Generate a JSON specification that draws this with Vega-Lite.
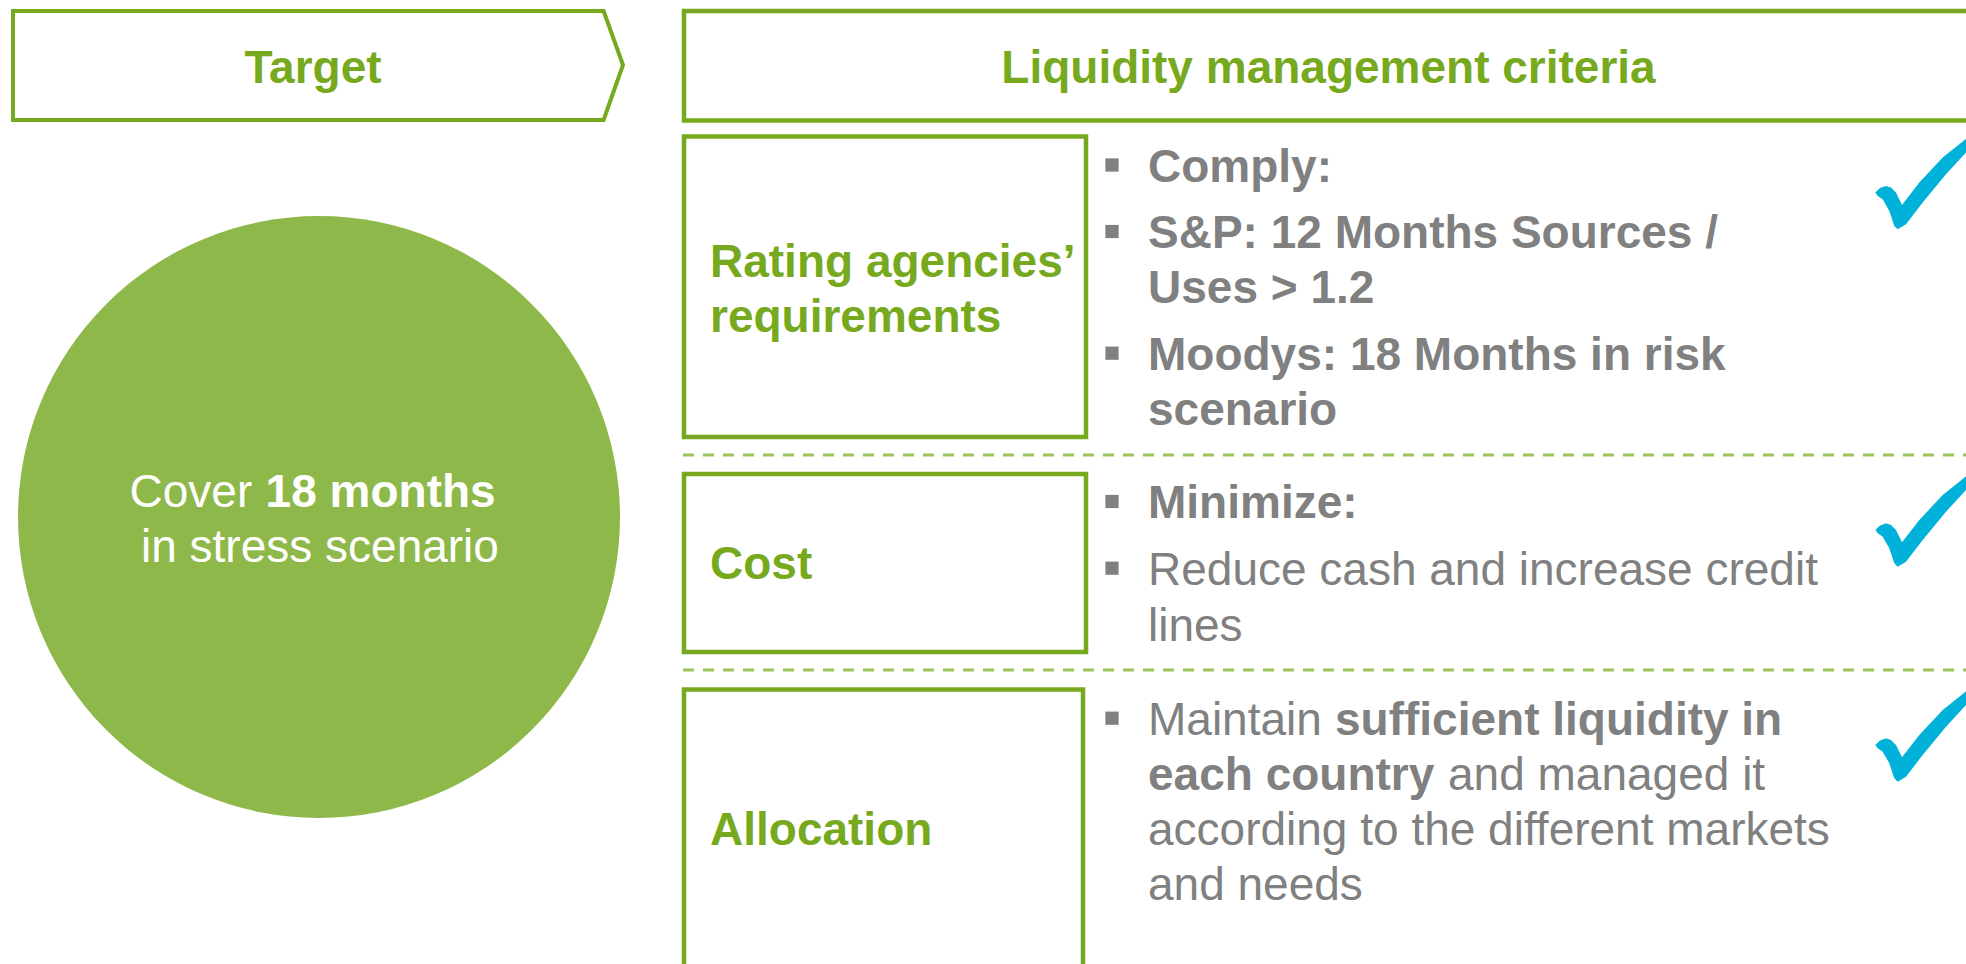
{
  "$schema": "https://vega.github.io/schema/vega-lite/v6.json",
  "width": 1966,
  "height": 964,
  "autosize": {"type": "none"},
  "padding": 0,
  "background": "white",
  "config": {"view": {"stroke": null}, "axis": {"disable": true}},
  "datasets": {
    "circle": [{"x": 319, "y": 517}],
    "pentagon": [
      {"x": 13, "y": 11, "o": 1},
      {"x": 603.6, "y": 11, "o": 2},
      {"x": 623, "y": 65, "o": 3},
      {"x": 603.6, "y": 120, "o": 4},
      {"x": 13, "y": 120, "o": 5},
      {"x": 13, "y": 11, "o": 6}
    ],
    "boxes": [
      {"x": 684, "x2": 2000, "y": 11, "y2": 120.5},
      {"x": 684, "x2": 1086, "y": 136.5, "y2": 437},
      {"x": 684, "x2": 1086, "y": 474, "y2": 652},
      {"x": 684, "x2": 1083, "y": 689.5, "y2": 1010}
    ],
    "dashes": [
      {"x": 683, "x2": 1966, "y": 455},
      {"x": 683, "x2": 1966, "y": 670}
    ],
    "bullets": [
      {"x": 1112, "y": 165},
      {"x": 1112, "y": 231.5},
      {"x": 1112, "y": 353.2},
      {"x": 1112, "y": 501.5},
      {"x": 1112, "y": 568.2},
      {"x": 1112, "y": 718.2}
    ],
    "checks": [
      {"x": 1920, "y": 185},
      {"x": 1920, "y": 522.4},
      {"x": 1920, "y": 737.4}
    ],
    "headers": [
      {"x": 313, "y": 82.7, "t": "Target"},
      {"x": 1328.5, "y": 82.7, "t": "Liquidity management criteria"}
    ],
    "labels": [
      {"x": 710, "y": 276.7, "t": "Rating agencies’"},
      {"x": 710, "y": 331.7, "t": "requirements"},
      {"x": 710, "y": 579.3, "t": "Cost"},
      {"x": 710, "y": 845, "t": "Allocation"}
    ],
    "greyBold": [
      {"x": 1148, "y": 181.7, "t": "Comply:"},
      {"x": 1148, "y": 248.3, "t": "S&P: 12 Months Sources /"},
      {"x": 1148, "y": 303.3, "t": "Uses > 1.2"},
      {"x": 1148, "y": 370, "t": "Moodys: 18 Months in risk"},
      {"x": 1148, "y": 425, "t": "scenario"},
      {"x": 1148, "y": 518.3, "t": "Minimize:"},
      {"x": 1335, "y": 735, "t": "sufficient liquidity in"},
      {"x": 1148, "y": 790, "t": "each country"}
    ],
    "greyRegular": [
      {"x": 1148, "y": 585, "t": "Reduce cash and increase credit"},
      {"x": 1148, "y": 640.7, "t": "lines"},
      {"x": 1148, "y": 735, "t": "Maintain"},
      {"x": 1448, "y": 790, "t": "and managed it"},
      {"x": 1148, "y": 845, "t": "according to the different markets"},
      {"x": 1148, "y": 900, "t": "and needs"}
    ],
    "whiteRegular": [
      {"x": 129.5, "y": 507, "t": "Cover"},
      {"x": 141, "y": 562, "t": "in stress scenario"}
    ],
    "whiteBold": [
      {"x": 265.6, "y": 507, "t": "18 months"}
    ]
  },
  "layer": [
    {
      "data": {"name": "circle"},
      "mark": {"type": "point", "shape": "circle", "filled": true, "color": "#8FB84A", "opacity": 1, "size": 362404, "strokeWidth": 0},
      "encoding": {
        "x": {"field": "x", "type": "quantitative", "scale": {"domain": [0, 1966], "nice": false, "zero": false}, "axis": null},
        "y": {"field": "y", "type": "quantitative", "scale": {"domain": [0, 964], "nice": false, "zero": false, "reverse": true}, "axis": null}
      }
    },
    {
      "data": {"name": "pentagon"},
      "mark": {"type": "line", "color": "#77A91E", "strokeWidth": 4, "strokeJoin": "miter", "strokeCap": "square"},
      "encoding": {
        "x": {"field": "x", "type": "quantitative"},
        "y": {"field": "y", "type": "quantitative"},
        "order": {"field": "o", "type": "quantitative"}
      }
    },
    {
      "data": {"name": "boxes"},
      "mark": {"type": "rect", "filled": false, "color": "#77A91E", "strokeWidth": 4.5, "clip": true},
      "encoding": {
        "x": {"field": "x", "type": "quantitative"},
        "x2": {"field": "x2"},
        "y": {"field": "y", "type": "quantitative"},
        "y2": {"field": "y2"}
      }
    },
    {
      "data": {"name": "dashes"},
      "mark": {"type": "rule", "color": "#9CC35A", "strokeWidth": 3, "strokeDash": [11, 9]},
      "encoding": {
        "x": {"field": "x", "type": "quantitative"},
        "x2": {"field": "x2"},
        "y": {"field": "y", "type": "quantitative"}
      }
    },
    {
      "data": {"name": "bullets"},
      "mark": {"type": "point", "shape": "square", "filled": true, "color": "#808080", "opacity": 1, "size": 175, "strokeWidth": 0},
      "encoding": {
        "x": {"field": "x", "type": "quantitative"},
        "y": {"field": "y", "type": "quantitative"}
      }
    },
    {
      "data": {"name": "checks"},
      "mark": {"type": "point", "filled": true, "color": "#00B2DA", "opacity": 1, "size": 10000, "strokeWidth": 0, "clip": true,
        "shape": "M-0.894,0.152 L-0.8,0.06 L-0.68,0.018 L-0.58,0.052 L-0.48,0.152 L-0.36,0.398 L-0.014,-0.048 L0.454,-0.548 L0.886,-0.894 L1.4,-1.3 L1.4,-1.17 L0.92,-0.648 L0.52,-0.214 L0.054,0.352 L-0.28,0.786 L-0.446,0.886 L-0.514,0.818 L-0.614,0.518 L-0.746,0.286 L-0.846,0.218 Z"},
      "encoding": {
        "x": {"field": "x", "type": "quantitative"},
        "y": {"field": "y", "type": "quantitative"}
      }
    },
    {
      "data": {"name": "headers"},
      "mark": {"type": "text", "font": "Liberation Sans", "fontSize": 46, "fontWeight": "bold", "color": "#77A91E", "align": "center", "baseline": "alphabetic"},
      "encoding": {
        "x": {"field": "x", "type": "quantitative"},
        "y": {"field": "y", "type": "quantitative"},
        "text": {"field": "t"}
      }
    },
    {
      "data": {"name": "labels"},
      "mark": {"type": "text", "font": "Liberation Sans", "fontSize": 46, "fontWeight": "bold", "color": "#77A91E", "align": "left", "baseline": "alphabetic"},
      "encoding": {
        "x": {"field": "x", "type": "quantitative"},
        "y": {"field": "y", "type": "quantitative"},
        "text": {"field": "t"}
      }
    },
    {
      "data": {"name": "greyBold"},
      "mark": {"type": "text", "font": "Liberation Sans", "fontSize": 46, "fontWeight": "bold", "color": "#808080", "align": "left", "baseline": "alphabetic"},
      "encoding": {
        "x": {"field": "x", "type": "quantitative"},
        "y": {"field": "y", "type": "quantitative"},
        "text": {"field": "t"}
      }
    },
    {
      "data": {"name": "greyRegular"},
      "mark": {"type": "text", "font": "Liberation Sans", "fontSize": 46, "fontWeight": "normal", "color": "#808080", "align": "left", "baseline": "alphabetic"},
      "encoding": {
        "x": {"field": "x", "type": "quantitative"},
        "y": {"field": "y", "type": "quantitative"},
        "text": {"field": "t"}
      }
    },
    {
      "data": {"name": "whiteRegular"},
      "mark": {"type": "text", "font": "Liberation Sans", "fontSize": 46, "fontWeight": "normal", "color": "#FFFFFF", "align": "left", "baseline": "alphabetic"},
      "encoding": {
        "x": {"field": "x", "type": "quantitative"},
        "y": {"field": "y", "type": "quantitative"},
        "text": {"field": "t"}
      }
    },
    {
      "data": {"name": "whiteBold"},
      "mark": {"type": "text", "font": "Liberation Sans", "fontSize": 46, "fontWeight": "bold", "color": "#FFFFFF", "align": "left", "baseline": "alphabetic"},
      "encoding": {
        "x": {"field": "x", "type": "quantitative"},
        "y": {"field": "y", "type": "quantitative"},
        "text": {"field": "t"}
      }
    }
  ]
}
